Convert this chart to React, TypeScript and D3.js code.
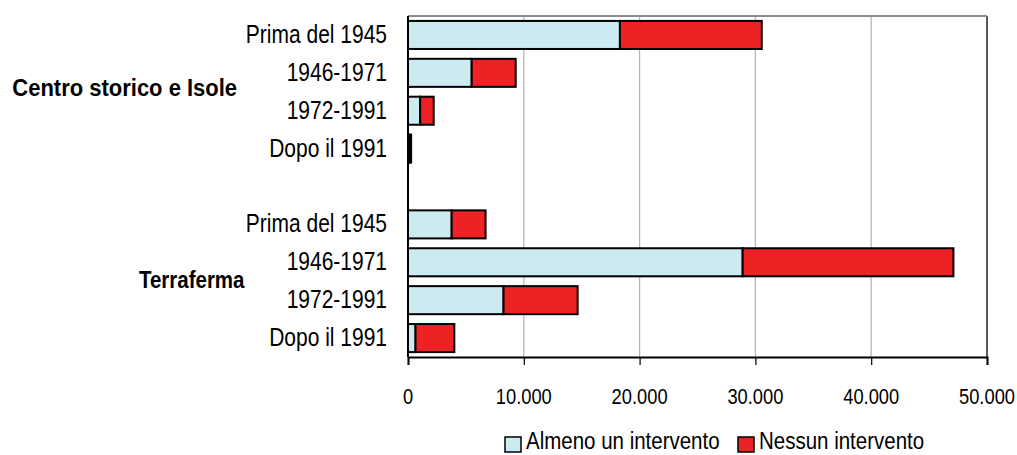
import React, { useEffect, useRef } from 'react';
import * as d3 from 'd3';

// periods, top-down within each group
const periods = ['Prima del 1945', '1946-1971', '1972-1991', 'Dopo il 1991'];
const groups = ['Centro storico e Isole', 'Terraferma'];
const seriesNames = ['Almeno un intervento', 'Nessun intervento'];

const centroAlmeno = [18300, 5500, 1050, 100];
const centroNessun = [12250, 3800, 1170, 170];
const terraAlmeno = [3770, 28900, 8250, 650];
const terraNessun = [2930, 18200, 6400, 3350];

const xTicks = [0, 10000, 20000, 30000, 40000, 50000];

const colors = ['#cdeaf0', '#ee2224'];

const App = () => {
    const ref = useRef<SVGSVGElement>(null);

    useEffect(() => {
        document.body.style.margin = '0';
        const svg = d3.select(ref.current);
        svg.selectAll('*').remove();

        const left = 408, right = 987, top = 16, bottom = 357;
        const font = 'Liberation Sans, Arial, sans-serif';

        const rows = [
            ...periods.map((p, i) => ({ key: 'c' + i, label: p, a: centroAlmeno[i], n: centroNessun[i] })),
            { key: 'gap', label: '', a: 0, n: 0 },
            ...periods.map((p, i) => ({ key: 't' + i, label: p, a: terraAlmeno[i], n: terraNessun[i] })),
        ];

        const x = d3.scaleLinear().domain([0, 50000]).range([left, right]);
        const y = d3.scaleBand()
            .domain(rows.map(d => d.key))
            .range([top, bottom])
            .paddingInner(0.26)
            .paddingOuter(0.13);

        // gridlines
        svg.append('g')
            .selectAll('line')
            .data(xTicks.slice(1))
            .enter()
            .append('line')
            .attr('x1', d => x(d)).attr('x2', d => x(d))
            .attr('y1', top).attr('y2', bottom)
            .attr('stroke', d => d === 50000 ? '#222' : '#b4b4b4')
            .attr('stroke-width', d => d === 50000 ? 1.5 : 1.2);

        svg.append('line')
            .attr('x1', left).attr('x2', right)
            .attr('y1', top).attr('y2', top)
            .attr('stroke', '#8a8a8a').attr('stroke-width', 2);

        // bars
        const bars = rows.filter(d => d.key !== 'gap');
        const g = svg.append('g');
        g.selectAll('.a')
            .data(bars)
            .enter()
            .append('rect')
            .attr('x', x(0))
            .attr('y', d => y(d.key)!)
            .attr('width', d => x(d.a) - x(0))
            .attr('height', y.bandwidth())
            .attr('fill', colors[0])
            .attr('stroke', '#000')
            .attr('stroke-width', 2);
        g.selectAll('.n')
            .data(bars)
            .enter()
            .append('rect')
            .attr('x', d => x(d.a))
            .attr('y', d => y(d.key)!)
            .attr('width', d => x(d.a + d.n) - x(d.a))
            .attr('height', y.bandwidth())
            .attr('fill', colors[1])
            .attr('stroke', '#000')
            .attr('stroke-width', 2);

        // axes
        svg.append('line')
            .attr('x1', left).attr('x2', left)
            .attr('y1', top).attr('y2', bottom)
            .attr('stroke', '#000').attr('stroke-width', 2);

        const xAxis = d3.axisBottom(x)
            .tickValues(xTicks)
            .tickSize(8)
            .tickFormat(() => '');
        const ax = svg.append('g')
            .attr('transform', `translate(0, ${bottom})`)
            .call(xAxis);
        ax.select('.domain').attr('stroke', '#000').attr('stroke-width', 2);
        ax.selectAll('.tick line').attr('stroke', '#000').attr('stroke-width', 1.2);

        // text in the original is drawn a bit taller than wide
        svg.append('g')
            .selectAll('text')
            .data(xTicks)
            .enter()
            .append('text')
            .attr('transform', d => `translate(${x(d)},404) scale(1,1.24)`)
            .attr('text-anchor', 'middle')
            .attr('font-family', font)
            .attr('font-size', 18.3)
            .text(d => d3.format(',')(d).replace(/,/g, '.'));

        // category labels
        svg.append('g')
            .selectAll('text')
            .data(bars)
            .enter()
            .append('text')
            .attr('transform', d => `translate(387,${y(d.key)! + y.bandwidth() / 2 + 8}) scale(1,1.22)`)
            .attr('text-anchor', 'end')
            .attr('font-family', font)
            .attr('font-size', 21)
            .text(d => d.label);

        // group labels
        const groupX = [124.7, 191.7];
        const groupY = [
            (y('c1')! + y('c2')! + y.bandwidth()) / 2 + 4,
            (y('t1')! + y('t2')! + y.bandwidth()) / 2 + 7,
        ];
        const groupSize = [22, 20.5];
        const groupStretch = [1.12, 1.15];
        svg.append('g')
            .selectAll('text')
            .data(groups)
            .enter()
            .append('text')
            .attr('transform', (d, i) => `translate(${groupX[i]},${groupY[i]}) scale(1,${groupStretch[i]})`)
            .attr('text-anchor', 'middle')
            .attr('font-family', font)
            .attr('font-weight', 'bold')
            .attr('font-size', (d, i) => groupSize[i])
            .text(d => d);

        // legend
        const legendX = [505, 738];
        const lg = svg.append('g');
        seriesNames.forEach((name, i) => {
            lg.append('rect')
                .attr('x', legendX[i]).attr('y', 437)
                .attr('width', 16).attr('height', 15)
                .attr('fill', colors[i])
                .attr('stroke', '#000').attr('stroke-width', 1.5);
            lg.append('text')
                .attr('transform', `translate(${legendX[i] + 21},449) scale(1,1.18)`)
                .attr('font-family', font)
                .attr('font-size', 20.5)
                .text(name);
        });
    }, []);

    return (
        <svg ref={ref} width={1017} height={455} style={{ display: 'block' }}></svg>
    );
};

export default App;
